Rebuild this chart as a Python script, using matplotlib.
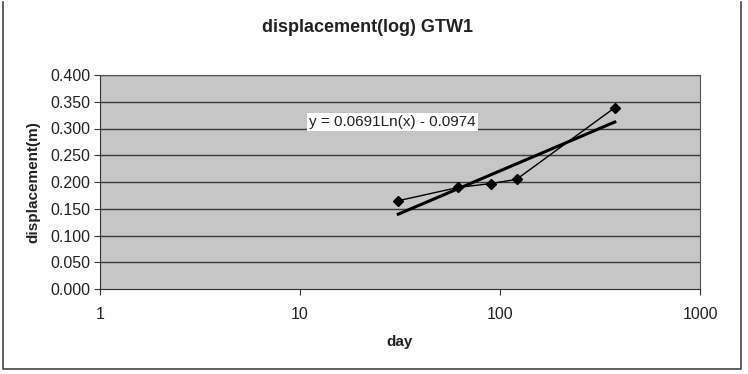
import numpy as np
import matplotlib
matplotlib.use("Agg")
import matplotlib.pyplot as plt
from matplotlib.lines import Line2D

plt.rcParams['font.family'] = ['Liberation Sans', 'DejaVu Sans']

# measured displacement GTW1
days = [31, 62, 90, 121, 375]
disp = [0.165, 0.190, 0.197, 0.205, 0.339]

# log trendline y = a*ln(x) + b
trend_a = 0.0691
trend_b = -0.0974
trend_label = "y = 0.0691Ln(x) - 0.0974"

yticks = [0.0, 0.05, 0.10, 0.15, 0.20, 0.25, 0.30, 0.35, 0.40]
xticks = [1, 10, 100, 1000]

fig = plt.figure(figsize=(7.48, 3.74), dpi=100)
ax = fig.add_axes([100/748, 1 - 289/374, 600/748, 214/374])
ax.set_facecolor("#c6c6c6")

ax.set_xscale("log")
ax.set_xlim(1, 1000)
ax.set_ylim(0, 0.4)
ax.set_yticks(yticks)
ax.set_yticklabels(["%.3f" % v for v in yticks])
ax.set_xticks(xticks)
ax.set_xticklabels([str(v) for v in xticks])
ax.xaxis.set_minor_locator(matplotlib.ticker.NullLocator())
ax.tick_params(axis="both", labelsize=11.5, length=4, color="#333333",
               labelcolor="#222222")
ax.tick_params(axis="y", pad=3)
ax.tick_params(axis="x", pad=9)

for v in yticks[1:]:
    ax.axhline(v, color="#3a3a3a", lw=1.0, zorder=1)

for side in ["top", "right"]:
    ax.spines[side].set_color("#555555")
for side in ["left", "bottom"]:
    ax.spines[side].set_color("#333333")

# data series
ax.plot(days, disp, color="black", lw=1.0, marker="D", ms=5, zorder=3)

# trendline over the data range
xt = np.linspace(min(days), max(days), 200)
ax.plot(xt, trend_a * np.log(xt) + trend_b, color="black", lw=2.2, zorder=4)

ax.text(0.487, 0.312, trend_label, fontsize=11, ha="center", va="center",
        transform=ax.get_yaxis_transform(), color="#222222",
        bbox=dict(facecolor="white", edgecolor="none", pad=1.5), zorder=5)

ax.set_xlabel("day", fontsize=11, fontweight="bold", labelpad=9, color="#222222")
ax.set_ylabel("displacement(m)", fontsize=11, fontweight="bold", labelpad=7,
              color="#222222")
fig.text(368/748, 1 - 28/374, "displacement(log) GTW1", fontsize=13,
         fontweight="bold", ha="center", va="center", color="#222222")

# chart area frame
fig.add_artist(Line2D([3/748, 3/748, 741/748, 741/748],
                      [1 - 2/374, 1 - 369/374, 1 - 369/374, 1 - 2/374],
                      color="#444444", lw=1.2, transform=fig.transFigure))

fig.savefig("out.png", dpi=100)
